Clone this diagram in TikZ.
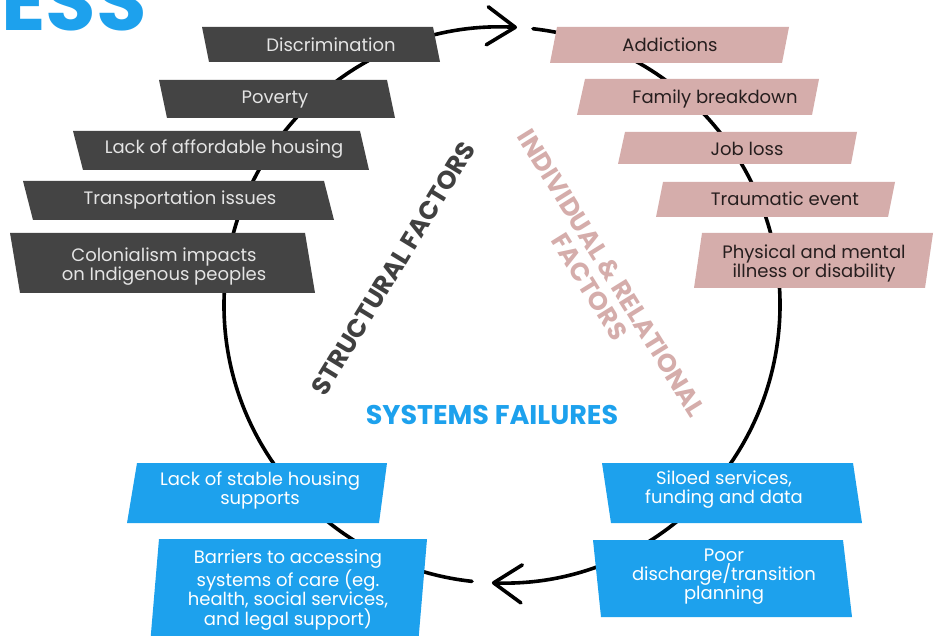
\documentclass[tikz,border=0pt]{standalone}
\usepackage{fontspec}
\setmainfont{Poppins}
\usetikzlibrary{arrows.meta}

\begin{document}
\begin{tikzpicture}[x=1pt,y=1pt,
  ring/.style={draw=black,line width=3.6pt,line cap=round},
  ringtip/.style={-{Straight Barb[length=28pt,width=38pt,round]}},
  darkslab/.style={fill=slabDark},
  pinkslab/.style={fill=slabPink},
  blueslab/.style={fill=slabBlue},
  slabtext/.style={align=center,inner sep=0pt,font=\fontsize{18}{19}\selectfont},
  darklabel/.style={slabtext,text=textLight},
  pinklabel/.style={slabtext,text=textDark},
  bluelabel/.style={slabtext,text=white},
  heading/.style={align=center,inner sep=0pt,font=\bfseries\fontsize{25.5}{26}\selectfont}]
\definecolor{slabDark}{RGB}{68,68,68}
\definecolor{slabPink}{RGB}{213,173,171}
\definecolor{slabBlue}{RGB}{29,161,237}
\definecolor{textLight}{RGB}{228,228,228}
\definecolor{textDark}{RGB}{38,30,30}
\definecolor{headDark}{RGB}{64,64,64}
\useasboundingbox (0,0) rectangle (941,635);
\clip (0,0) rectangle (941,635);
\path[fill=white] (0,0) rectangle (941,635);

% title tail, cut by the page edge
\node[text=slabBlue,anchor=base east,inner sep=0pt,font=\bfseries\fontsize{82}{82}\selectfont] (title) at (147,604) {ESS};

% the cycle
\coordinate (hub) at (502,330);
\draw[ring,ringtip] ([shift={(83.6:278)}]hub) arc[start angle=83.6,end angle=-92.1,radius=278];
\draw[ring,ringtip] ([shift={(263.8:278)}]hub) arc[start angle=263.8,end angle=86.9,radius=278];

% structural factors
\path[darkslab] (202,608) -- (433,608) -- (440,573) -- (209,573) -- cycle;
\path[darkslab] (159,555) -- (387,555) -- (395,517) -- (167,517) -- cycle;
\path[darkslab] (73,504) -- (360,504) -- (369,465) -- (83,465) -- cycle;
\path[darkslab] (23,454) -- (324,454) -- (334,415) -- (33,415) -- cycle;
\path[darkslab] (10,402) -- (305,402) -- (315,342) -- (20,342) -- cycle;

\node[darklabel] (discrimination) at (331,590) {Discrimination};
\node[darklabel] (poverty) at (275,535) {Poverty};
\node[darklabel] (housingcost) at (224,486) {Lack of affordable housing};
\node[darklabel] (transport) at (180,435) {Transportation issues};
\node[darklabel] (colonialism) at (164,368) {Colonialism impacts\\on Indigenous peoples};

% individual and relational factors
\path[pinkslab] (557,608) -- (789,608) -- (782,572) -- (550,572) -- cycle;
\path[pinkslab] (585,556) -- (819,556) -- (812,520) -- (577,520) -- cycle;
\path[pinkslab] (625,503) -- (857,503) -- (851,471) -- (618,471) -- cycle;
\path[pinkslab] (663,453) -- (895,453) -- (888,418) -- (656,418) -- cycle;
\path[pinkslab] (702,402) -- (933,402) -- (925,347) -- (694,347) -- cycle;

\node[pinklabel] (addictions) at (670,590) {Addictions};
\node[pinklabel] (familybreak) at (715,536) {Family breakdown};
\node[pinklabel] (jobloss) at (747,486) {Job loss};
\node[pinklabel] (trauma) at (785,436) {Traumatic event};
\node[pinklabel] (illness) at (814,372) {Physical and mental\\illness or disability};

% systems failures
\path[blueslab] (137,172) -- (387,172) -- (379,112) -- (127,112) -- cycle;
\path[blueslab] (159,96) -- (427,96) -- (418,-10) -- (150,-10) -- cycle;
\path[blueslab] (602,172) -- (853,172) -- (862,112) -- (611,112) -- cycle;
\path[blueslab] (593,95) -- (843,95) -- (852,18) -- (601,18) -- cycle;

\node[bluelabel] (housingsupport) at (260,145) {Lack of stable housing\\supports};
\node[bluelabel] (careaccess) at (288,45) {Barriers to accessing\\systems of care (eg.\\health, social services,\\and legal support)};
\node[bluelabel] (siloed) at (724,145) {Siloed services,\\funding and data};
\node[bluelabel] (discharge) at (724,58) {Poor\\discharge/transition\\planning};

% headings
\node[heading,text=headDark,rotate=58.6] (structural) at (393.5,366.5) {STRUCTURAL FACTORS};
\node[heading,text=slabPink,rotate=-58.2] (individual) at (600.5,355) {INDIVIDUAL \& RELATIONAL\\FACTORS};
\node[heading,text=slabBlue,font=\bfseries\fontsize{27}{28}\selectfont] (systems) at (492,220) {SYSTEMS FAILURES};
\end{tikzpicture}
\end{document}
